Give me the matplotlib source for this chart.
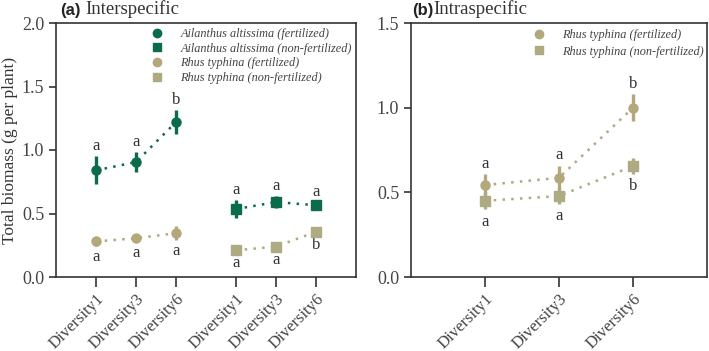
import numpy as np
import matplotlib
matplotlib.use('Agg')
import matplotlib.pyplot as plt
from matplotlib.lines import Line2D

plt.rcParams['font.family'] = ['Liberation Serif', 'DejaVu Serif']

# panel (a) interspecific
div_labels = ["Diversity1", "Diversity3", "Diversity6"]
ail_fert = [0.84, 0.905, 1.22]
ail_fert_err = [0.11, 0.08, 0.095]
ail_non = [0.535, 0.59, 0.565]
ail_non_err = [0.07, 0.045, 0.025]
rhus_fert_a = [0.28, 0.305, 0.345]
rhus_fert_a_err = [0.035, 0.03, 0.055]
rhus_non_a = [0.21, 0.24, 0.355]
rhus_non_a_err = [0.015, 0.02, 0.015]
letters_ail_fert = ['a', 'a', 'b']
letters_ail_non = ['a', 'a', 'a']
letters_rhus_fert_a = ['a', 'a', 'a']
letters_rhus_non_a = ['a', 'a', 'b']

# panel (b) intraspecific
rhus_fert_b = [0.543, 0.586, 1.0]
rhus_fert_b_err = [0.065, 0.07, 0.08]
rhus_non_b = [0.45, 0.478, 0.655]
rhus_non_b_err = [0.05, 0.045, 0.045]
letters_fert_b = ['a', 'a', 'b']
letters_non_b = ['a', 'a', 'b']

green = '#0b6b4a'
tan1 = '#b3a77c'
tan2 = '#aeaa82'

fig = plt.figure(figsize=(7.09, 3.51), dpi=100)
ax1 = fig.add_axes([56/709, 1-277/351, 300/709, 254/351])
ax2 = fig.add_axes([411/709, 1-277/351, 296/709, 254/351])

xa_f = np.array([1, 2, 3])
xa_n = np.array([4.5, 5.5, 6.5])


def series(ax, x, y, err, color, marker, letters, above, ms=6.5):
    ax.plot(x, y, linestyle=(0, (1, 2.5)), color=color, lw=1.8, zorder=1)
    ax.errorbar(x, y, yerr=err, fmt=marker, color=color, ms=ms, elinewidth=2.4,
                capsize=0, zorder=3)
    for xi, yi, ei, t in zip(x, y, err, letters):
        if above:
            ax.text(xi, yi + ei + 0.015, t, ha='center', va='bottom', fontsize=12, color='#333333')
        else:
            ax.text(xi, yi - ei - 0.025, t, ha='center', va='top', fontsize=12, color='#333333')


def handles(specs):
    return [Line2D([0], [0], marker=m, color=c, linestyle='none', markersize=6) for c, m in specs]


series(ax1, xa_f, ail_fert, ail_fert_err, green, 'o', letters_ail_fert, True)
series(ax1, xa_n, ail_non, ail_non_err, green, 's', letters_ail_non, True)
series(ax1, xa_f, rhus_fert_a, rhus_fert_a_err, tan1, 'o', letters_rhus_fert_a, False)
series(ax1, xa_n, rhus_non_a, rhus_non_a_err, tan2, 's', letters_rhus_non_a, False)

ax1.set_xlim(0, 7.5)
ax1.set_ylim(0, 2.0)
ax1.set_yticks([0, 0.5, 1.0, 1.5, 2.0])
ax1.set_yticklabels(['0.0', '0.5', '1.0', '1.5', '2.0'])
ax1.set_xticks(list(xa_f) + list(xa_n))
ax1.set_xticklabels(div_labels + div_labels)
ax1.set_ylabel('Total biomass (g per plant)', fontsize=12.5, labelpad=3, color='#333333')
ax1.legend(handles([(green, 'o'), (green, 's'), (tan1, 'o'), (tan2, 's')]),
           ['Ailanthus altissima (fertilized)', 'Ailanthus altissima (non-fertilized)',
            'Rhus typhina (fertilized)', 'Rhus typhina (non-fertilized)'],
           loc='upper left', bbox_to_anchor=(0.3, 1.0), frameon=False,
           prop={'style': 'italic', 'size': 8.8}, handletextpad=1.4,
           borderaxespad=0.0, labelspacing=0.22, handlelength=1.0, labelcolor='#444444')
ax1.text(0.013, 1.02, '(a)', transform=ax1.transAxes, fontsize=12, fontweight='bold',
         family='Liberation Sans', ha='left', va='bottom', color='#222222')
ax1.text(0.097, 1.02, 'Interspecific', transform=ax1.transAxes, fontsize=13.5,
         ha='left', va='bottom', color='#333333')

xb = np.array([1, 2, 3])
series(ax2, xb, rhus_fert_b, rhus_fert_b_err, tan1, 'o', letters_fert_b, True)
series(ax2, xb, rhus_non_b, rhus_non_b_err, tan2, 's', letters_non_b, False)

ax2.set_xlim(0, 4)
ax2.set_ylim(0, 1.5)
ax2.set_yticks([0, 0.5, 1.0, 1.5])
ax2.set_yticklabels(['0.0', '0.5', '1.0', '1.5'])
ax2.set_xticks(xb)
ax2.set_xticklabels(div_labels)
ax2.legend(handles([(tan1, 'o'), (tan2, 's')]),
           ['Rhus typhina (fertilized)', 'Rhus typhina (non-fertilized)'],
           loc='upper left', bbox_to_anchor=(0.39, 1.0), frameon=False,
           prop={'style': 'italic', 'size': 8.8}, handletextpad=1.4,
           borderaxespad=0.1, labelspacing=0.38, handlelength=1.0, labelcolor='#444444')
ax2.text(0.005, 1.02, '(b)', transform=ax2.transAxes, fontsize=12, fontweight='bold',
         family='Liberation Sans', ha='left', va='bottom', color='#222222')
ax2.text(0.075, 1.02, 'Intraspecific', transform=ax2.transAxes, fontsize=13.5,
         ha='left', va='bottom', color='#333333')

for ax in (ax1, ax2):
    for s in ax.spines.values():
        s.set_linewidth(1.2)
        s.set_color('#333333')
    ax.tick_params(axis='y', labelsize=13, length=5, width=1.2, colors='#333333', labelcolor='#444444')
    ax.tick_params(axis='x', labelsize=12, length=7, width=1.2, colors='#333333',
                   labelcolor='#444444', pad=3)
    for lab in ax.get_xticklabels():
        lab.set_rotation(45)
        lab.set_ha('right')
        lab.set_rotation_mode('anchor')

fig.savefig('out.png', dpi=100)
